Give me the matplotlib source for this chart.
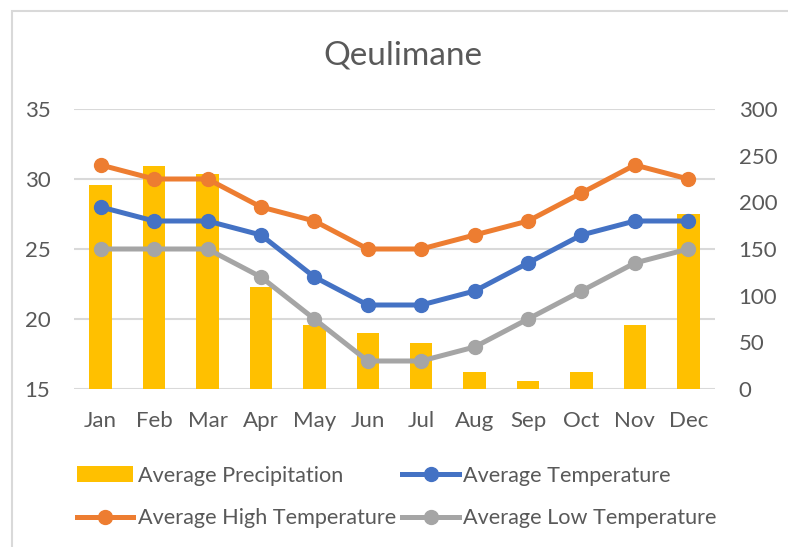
import matplotlib
matplotlib.use('Agg')
import matplotlib.pyplot as plt
from matplotlib.patches import Rectangle

plt.rcParams['font.family'] = ['Lato', 'DejaVu Sans']

# Datos
meses = ['Jan', 'Feb', 'Mar', 'Apr', 'May', 'Jun', 'Jul', 'Aug', 'Sep', 'Oct', 'Nov', 'Dec']
precip = [219, 239, 230, 109, 69, 60, 49, 18, 9, 18, 69, 188]
t_media = [28, 27, 27, 26, 23, 21, 21, 22, 24, 26, 27, 27]
t_alta = [31, 30, 30, 28, 27, 25, 25, 26, 27, 29, 31, 30]
t_baja = [25, 25, 25, 23, 20, 17, 17, 18, 20, 22, 24, 25]

TXT = '#595959'
GRID = '#d9d9d9'
C_BAR = '#ffc000'
C_AVG = '#4472c4'
C_HIGH = '#ed7d31'
C_LOW = '#a5a5a5'
FS = 16

fig = plt.figure(figsize=(7.88, 5.47), dpi=100)
# marco gris del gráfico
fig.patches.append(Rectangle((12 / 788, -0.05), 1.2, 1 - 11 / 547 + 0.05,
                             transform=fig.transFigure, fill=False,
                             edgecolor=GRID, linewidth=1.5))

pos = [74 / 788, 1 - 389 / 547, (715 - 74) / 788, (389 - 109) / 547]
ax1 = fig.add_axes(pos)
x = list(range(12))

# Eje izquierdo: rejilla y etiquetas de temperatura
ax1.set_ylim(15, 35)
ax1.set_yticks([15, 20, 25, 30, 35])
ax1.set_xlim(-0.5, 11.5)
ax1.set_xticks(x)
ax1.set_xticklabels(meses)
ax1.grid(axis='y', color=GRID, linewidth=1.5)
ax1.set_axisbelow(True)
ax1.tick_params(axis='both', length=0, colors=TXT, labelsize=FS)
ax1.tick_params(axis='x', pad=16)
ax1.tick_params(axis='y', pad=17)
for s in ax1.spines.values():
    s.set_visible(False)

# Eje derecho: precipitación
ax2 = ax1.twinx()
ax2.set_ylim(0, 300)
ax2.set_yticks(range(0, 301, 50))
ax2.tick_params(axis='y', length=0, colors=TXT, labelsize=FS, pad=17)
ax2.bar(x, precip, width=0.42, color=C_BAR, label='Average Precipitation')
ax2.patch.set_visible(False)
for s in ax2.spines.values():
    s.set_visible(False)

# Líneas de temperatura por encima de las barras
ax3 = ax1.twinx()
ax3.set_ylim(15, 35)
ax3.set_yticks([])
ax3.patch.set_visible(False)
for s in ax3.spines.values():
    s.set_visible(False)
kw = dict(marker='o', linewidth=3.6, markersize=10)
l_avg, = ax3.plot(x, t_media, color=C_AVG, label='Average Temperature', **kw)
l_high, = ax3.plot(x, t_alta, color=C_HIGH, label='Average High Temperature', **kw)
l_low, = ax3.plot(x, t_baja, color=C_LOW, label='Average Low Temperature', **kw)

fig.text(0.511, 1 - 55 / 547, 'Qeulimane', ha='center', va='center',
         fontsize=24, color=TXT)

h_bar = ax2.containers[0]
fig.legend([h_bar, l_high, l_avg, l_low],
           ['Average Precipitation', 'Average High Temperature',
            'Average Temperature', 'Average Low Temperature'],
           ncol=2, loc='center left', bbox_to_anchor=(77 / 788, 1 - 497 / 547),
           frameon=False, fontsize=15.6, labelcolor=TXT,
           handlelength=2.6, handletextpad=0.2, columnspacing=0.3,
           labelspacing=1.05, borderaxespad=0, borderpad=0)

fig.savefig('out.png', dpi=100)
